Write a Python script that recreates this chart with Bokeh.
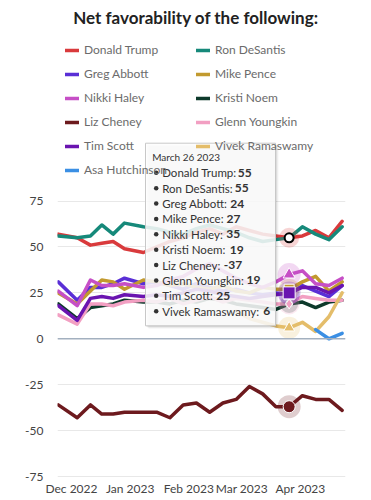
import numpy as np
import pandas as pd
from datetime import datetime, timedelta
from bokeh.plotting import figure
from bokeh.models import ColumnDataSource, Range1d, FixedTicker, Legend, LegendItem, Span
from bokeh.core.properties import value
from bokeh.embed import file_html
from bokeh.resources import INLINE

nan = float("nan")

# ---------------- data ----------------
dates = ["2022-11-24", "2022-12-04", "2022-12-11", "2022-12-17", "2022-12-23", "2022-12-29",
         "2023-01-08", "2023-01-15", "2023-01-22", "2023-01-29", "2023-02-05", "2023-02-12",
         "2023-02-19", "2023-02-26", "2023-03-05", "2023-03-12", "2023-03-19", "2023-03-26",
         "2023-04-02", "2023-04-09", "2023-04-16", "2023-04-23"]

trump      = [57, 55, 51, 52, 53, 49, 47, 50, 53, 55, 58, 60, 57, 61, 59, 57, 56, 55, 56, 59, 55, 64]
desantis   = [56, 55, 56, 62, 57, 63, 61, 60, 58, 57, 60, 62, 60, 58, 55, 53, 54, 55, 61, 57, 54, 61]
abbott     = [31, 21, 28, 28, 30, 33, 30, 31, 29, 27, 30, 28, 26, 27, 25, 24, 25, 24, 29, 26, 23, 29]
pence      = [25, 19, 26, 32, 31, 27, 32, 31, 29, 30, 28, 27, 29, 26, 25, 28, 27, 27, 31, 34, 26, 31]
haley      = [26, 18, 32, 29, 29, 30, 28, 29, 32, 34, 38, 41, 37, 33, 30, 28, 31, 35, 37, 30, 29, 33]
noem       = [19, 11, 17, 18, 19, 21, 20, 20, 19, 21, 20, 22, 21, 19, 18, 17, 16, 19, 20, 17, 20, 21]
cheney     = [-36, -43, -36, -41, -41, -40, -40, -40, -43, -36, -35, -40, -35, -33, -26, -30, -37,
              -37, -31, -33, -33, -39]
youngkin   = [13, 8, 19, 19, 18, 20, 21, 20, 22, 19, 21, 23, 20, 22, 21, 20, 19, 19, 23, 22, 21, 21]
scott      = [18, 10, 22, 23, 22, 24, 23, 24, 23, 25, 27, 26, 24, 23, 22, 23, 24, 25, 28, 28, 25, 29]
ramaswamy  = [nan] * 13 + [15, 11, 9, 7, 6, 9, 4, 12, 25]
hutchinson = [nan] * 19 + [5, 0, 3]

series_names = ["Donald Trump", "Ron DeSantis", "Greg Abbott", "Mike Pence", "Nikki Haley",
                "Kristi Noem", "Liz Cheney", "Glenn Youngkin", "Tim Scott", "Vivek Ramaswamy",
                "Asa Hutchinson"]
series_values = [trump, desantis, abbott, pence, haley, noem, cheney, youngkin, scott,
                 ramaswamy, hutchinson]

month_ticks = ["2022-12-01", "2023-01-01", "2023-02-01", "2023-03-01", "2023-04-01"]
month_labels = ["Dec 2022", "Jan 2023", "Feb 2023", "Mar 2023", "Apr 2023"]
y_ticks = [-75, -50, -25, 0, 25, 50, 75]
y_labels = ["-75", "-50", "-25", "0", "25", "50", "75"]

hover_index = 17  # March 26 2023

# ---------------- styles ----------------
colors = ["#d93a3c", "#16897a", "#5a2fd6", "#c29a2f", "#c64fc6", "#0d3a2b", "#6d1a1e",
          "#f29fc2", "#6a14b0", "#e4bd6a", "#3b8fe4"]
hover_marker = ["circle", None, "square", "square", "triangle", "circle", "circle",
                "diamond", "square", "triangle", None]
hover_size = [9, 0, 10, 10, 12, 7, 12, 10, 12, 11, 0]
FONT = "Lato"

# geometry: canvas pixel <-> data
DEC1 = datetime(2022, 12, 1)
PX_PER_DAY = 229.0 / 121.0
X0 = 71.0           # canvas x of Dec 1
Y0, PX_PER_UNIT = 339.0, 1.84


def xpx(cx):
    return DEC1 + timedelta(days=(cx - X0) / PX_PER_DAY)


def ypx(cy):
    return (Y0 - cy) / PX_PER_UNIT


W, H = 363, 498
FRAME_L, FRAME_R, FRAME_T, FRAME_B = 57, 345, 0, 478

p = figure(width=W, height=H, x_axis_type="datetime",
           x_range=Range1d(xpx(FRAME_L), xpx(FRAME_R)),
           y_range=Range1d(ypx(FRAME_B), ypx(FRAME_T)),
           output_backend="svg", toolbar_location=None,
           min_border_left=FRAME_L, min_border_right=W - FRAME_R,
           min_border_top=FRAME_T, min_border_bottom=H - FRAME_B)
p.outline_line_color = None
p.background_fill_color = "white"
p.border_fill_color = "white"

# axes
tick_ms = [int(pd.Timestamp(d).value // 10**6) for d in month_ticks]
p.xaxis.ticker = FixedTicker(ticks=tick_ms)
p.xaxis.major_label_overrides = {t: l for t, l in zip(tick_ms, month_labels)}
p.yaxis.ticker = FixedTicker(ticks=y_ticks)
p.yaxis.major_label_overrides = {t: l for t, l in zip(y_ticks, y_labels)}
for ax in (p.xaxis[0], p.yaxis[0]):
    ax.axis_line_color = None
    ax.major_tick_line_color = None
    ax.minor_tick_line_color = None
    ax.major_tick_out = 0
    ax.major_tick_in = 0
    ax.major_label_text_font = FONT
    ax.major_label_text_font_size = "12px"
    ax.major_label_text_color = "#444444"
p.yaxis.major_label_standoff = 14
p.xaxis.major_label_standoff = 3
p.xgrid.visible = False
p.ygrid.ticker = FixedTicker(ticks=y_ticks)
p.ygrid.grid_line_color = "#e8e8e8"
p.ygrid.grid_line_width = 1
p.add_layout(Span(location=0, dimension="width", line_color="#a3b0bf", line_width=1.5))

# lines
data = {"date": pd.to_datetime(dates)}
keys = []
for i, vals in enumerate(series_values):
    k = "s%d" % i
    keys.append(k)
    data[k] = np.array(vals, dtype=float)
src = ColumnDataSource(data)

renderers = []
for i, k in enumerate(keys):
    r = p.line("date", k, source=src, line_color=colors[i], line_width=3.5,
               line_join="round", line_cap="round")
    renderers.append(r)

# tooltip box (drawn over the lines)
tl, tr, tt, tb = 145, 275, 143, 326
for off, a in ((3, 0.04), (2, 0.06), (1, 0.08)):
    p.quad(left=[xpx(tl + off)], right=[xpx(tr + off)], top=[ypx(tt + off)],
           bottom=[ypx(tb + off)], fill_color="black", fill_alpha=a, line_color=None)
p.quad(left=[xpx(tl)], right=[xpx(tr)], top=[ypx(tt)], bottom=[ypx(tb)],
       fill_color="white", fill_alpha=0.86, line_color="#c8c8c8", line_width=1)

hdate = pd.Timestamp(dates[hover_index])
p.text(x=[xpx(151.7)], y=[ypx(156.7)],
       text=[hdate.strftime("%B ") + str(hdate.day) + hdate.strftime(" %Y")],
       text_font=value(FONT), text_font_size="10px", text_color="#333333",
       text_baseline="middle", text_align="left")

tip_names, tip_vals = [], []
for name, vals in zip(series_names, series_values):
    v = vals[hover_index]
    if not np.isnan(v):
        tip_names.append(name + ":")
        tip_vals.append("%d" % v)
value_x = [237.3, 234.3, 229.8, 226.0, 225.8, 229.3, 223.3, 246.0, 215.8, 262.7]
row_y = [172.7 + 15.4 * i for i in range(len(tip_names))]
p.scatter(x=[xpx(155.7)] * len(row_y), y=[ypx(y) for y in row_y], size=4.5,
          marker="circle", fill_color="#333333", line_color=None)
p.text(x=[xpx(161.7)] * len(row_y), y=[ypx(y) for y in row_y], text=tip_names,
       text_font=value(FONT), text_font_size="11.5px", text_color="#333333",
       text_baseline="middle", text_align="left")
p.text(x=[xpx(vx) for vx in value_x[:len(row_y)]], y=[ypx(y) for y in row_y], text=tip_vals,
       text_font=value(FONT), text_font_size="12px", text_font_style="bold",
       text_color="#333333", text_baseline="middle", text_align="left")

# hover markers at March 26
for i, vals in enumerate(series_values):
    m = hover_marker[i]
    v = vals[hover_index]
    if m is None or np.isnan(v):
        continue
    p.scatter(x=[hdate], y=[v], size=hover_size[i] + 11, marker="circle",
              fill_color=colors[i], fill_alpha=0.22, line_color=None)
for i, vals in enumerate(series_values):
    m = hover_marker[i]
    v = vals[hover_index]
    if m is None or np.isnan(v):
        continue
    if i == 0:
        p.scatter(x=[hdate], y=[v], size=hover_size[i], marker=m, fill_color="white",
                  line_color="black", line_width=2)
    else:
        p.scatter(x=[hdate], y=[v], size=hover_size[i], marker=m, fill_color=colors[i],
                  line_color="white", line_width=1)

# title
p.text(x=[xpx(195.5)], y=[ypx(16.7)], text=["Net favorability of the following:"],
       text_font=value(FONT), text_font_size="17px", text_font_style="bold",
       text_color="#222222", text_align="center", text_baseline="alphabetic")

# legends (two columns)
col1 = [0, 2, 4, 6, 8, 10]
col2 = [1, 3, 5, 7, 9]
ROW = 24
for idx, vx in ((col1, 8), (col2, 139)):
    items = [LegendItem(label=series_names[i], renderers=[renderers[i]]) for i in idx]
    top = 38.5
    bottom = top + ROW * len(idx)
    lg = Legend(items=items, location=(vx, FRAME_B - bottom), orientation="vertical",
                glyph_width=14, glyph_height=ROW, label_height=ROW, spacing=0,
                padding=0, margin=0, label_standoff=5,
                label_text_font=FONT, label_text_font_size="12px",
                label_text_color="#6b6b6b", background_fill_alpha=0,
                border_line_alpha=0, click_policy="none")
    p.add_layout(lg)

open("out.html", "w").write(file_html(p, INLINE))
